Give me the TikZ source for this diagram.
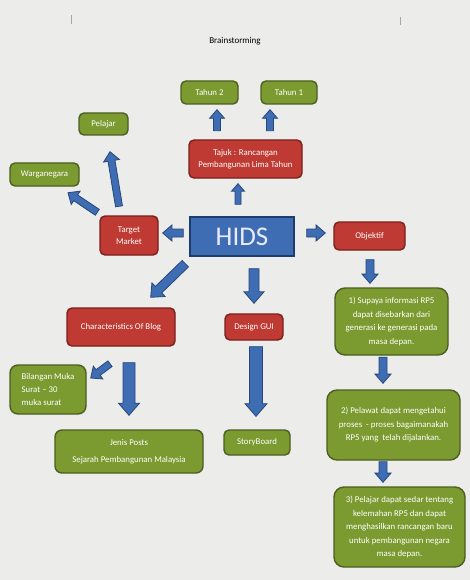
\documentclass[tikz,border=0pt]{standalone}
\usepackage{fontspec}
\setmainfont{Carlito}
\usetikzlibrary{calc}
\definecolor{bg}{HTML}{ECECEA}
\definecolor{redf}{HTML}{BF3A33}
\definecolor{redd}{HTML}{7A1F1C}
\definecolor{grnf}{HTML}{7B9A2F}
\definecolor{grnd}{HTML}{4C5E21}
\definecolor{bluf}{HTML}{3F6DB3}
\definecolor{blud}{HTML}{27477C}
\definecolor{hidsd}{HTML}{1F3C6E}
\tikzset{
  box/.style={draw, line width=1.4pt, rounded corners=5pt, text=white, align=center, inner sep=2pt, font=\fontsize{8.8}{13.5}\selectfont},
  redbox/.style={box, fill=redf, draw=redd},
  grnbox/.style={box, fill=grnf, draw=grnd},
  arrowst/.style={fill=bluf, draw=blud, line width=0.8pt, line join=miter},
}
\newcommand\barrow[4]{%
  \filldraw[arrowst] let \p1=($(#2)-(#1)$), \n1={atan2(\y1,\x1)}, \n2={veclen(\x1,\y1)} in
    [shift={(#1)}, rotate=\n1]
    (0,-#3) -- ({\n2-1.15*#4},-#3) -- ({\n2-1.15*#4},-#4) -- (\n2,0) --
    ({\n2-1.15*#4},#4) -- ({\n2-1.15*#4},#3) -- (0,#3) -- cycle;
}
\begin{document}
\begin{tikzpicture}[x=1pt,y=-1pt]
\fill[bg] (0,0) rectangle (470,580);
\useasboundingbox (0,0) rectangle (470,580);
\draw[gray!70, line width=0.6pt] (71,15) -- (71,24);
\draw[gray!70, line width=0.6pt] (400,17) -- (400,25);

\node[font=\fontsize{9}{10}\selectfont] (title) at (235,41) {Brainstorming};

\node[grnbox, minimum width=57, minimum height=23] (tahun2) at (209.5,92.5) {Tahun 2};
\node[grnbox, minimum width=56, minimum height=23] (tahun1) at (289,92.5) {Tahun 1};
\node[redbox, minimum width=113, minimum height=38, font=\fontsize{8.8}{12}\selectfont] (tajuk) at (245.5,159) {Tajuk : Rancangan\\Pembangunan Lima Tahun};
\node[grnbox, minimum width=49, minimum height=22] (pelajar) at (103.5,124) {Pelajar};
\node[grnbox, minimum width=69, minimum height=23] (warga) at (44.5,174.5) {Warganegara};
\node[redbox, minimum width=58, minimum height=39, font=\fontsize{8.8}{12}\selectfont] (target) at (129,235.5) {Target\\Market};
\node[box, fill=bluf, draw=hidsd, rounded corners=0pt, minimum width=104, minimum height=39, text=blue!8!white, font=\fontsize{27}{28}\selectfont] (hids) at (242,236.5) {HIDS};
\node[redbox, minimum width=71, minimum height=28] (objektif) at (369.5,236) {Objektif};
\node[redbox, minimum width=108, minimum height=38] (charac) at (121,327) {Characteristics Of Blog};
\node[redbox, minimum width=58, minimum height=26] (design) at (254,327) {Design GUI};
\node[grnbox, minimum width=113, minimum height=67, rounded corners=10pt] (obj1) at (391.5,321.5) {1) Supaya informasi RP5\\dapat disebarkan dari\\generasi ke generasi pada\\masa depan.};
\node[grnbox, minimum width=133, minimum height=70, rounded corners=10pt] (obj2) at (393.5,425) {2) Pelawat dapat mengetahui\\proses \ - proses bagaimanakah\\RP5 yang \ telah dijalankan.};
\node[grnbox, minimum width=131, minimum height=80, rounded corners=10pt] (obj3) at (399.5,527) {3) Pelajar dapat sedar tentang\\kelemahan RP5 dan dapat\\menghasilkan rancangan baru\\untuk pembangunan negara\\masa depan.};
\node[grnbox, minimum width=76, minimum height=49, align=left, rounded corners=8pt, font=\fontsize{8.8}{13}\selectfont] (bilangan) at (48,389.5) {Bilangan Muka\\Surat -- 30\\muka surat};
\node[grnbox, minimum width=148, minimum height=43, rounded corners=7pt, font=\fontsize{8.8}{15}\selectfont] (jenis) at (129,451.5) {Jenis Posts\\[2pt]Sejarah Pembangunan Malaysia};
\node[grnbox, minimum width=66, minimum height=25] (story) at (257,442.5) {StoryBoard};

% arrow end coordinates
\coordinate (a1s) at ($(tahun2.south)+(7.5,26)$);   \coordinate (a1e) at ($(tahun2.south)+(7.5,5)$);
\coordinate (a2s) at ($(tahun1.south)+(-19,26)$);   \coordinate (a2e) at ($(tahun1.south)+(-19,5)$);
\coordinate (a3s) at ($(hids.north)+(-4,-12)$);     \coordinate (a3e) at ($(tajuk.south)+(-7.5,5)$);
\coordinate (a4s) at ($(hids.west)+(-6,-3.5)$);     \coordinate (a4e) at ($(target.east)+(4,-2.5)$);
\coordinate (a5s) at ($(hids.east)+(12,-3.5)$);     \coordinate (a5e) at ($(objektif.west)+(-8,-3)$);
\coordinate (a6s) at ($(target.north)+(-10,-9)$);   \coordinate (a6e) at ($(pelajar.south)+(6.5,16)$);
\coordinate (a7s) at ($(target.north west)+(-2,-3)$); \coordinate (a7e) at ($(warga.south)+(23.5,6)$);
\coordinate (a8s) at ($(hids.south west)+(-4,7)$);  \coordinate (a8e) at ($(charac.north east)+(-25,-10)$);
\coordinate (a9s) at ($(hids.south)+(12,12)$);      \coordinate (a9e) at ($(design.north)+(0,-10)$);
\coordinate (b1s) at ($(objektif.south)+(0.5,9)$);  \coordinate (b1e) at ($(obj1.north)+(-21.5,-4)$);
\coordinate (b2s) at ($(obj1.south)+(-8.5,1.5)$);   \coordinate (b2e) at ($(obj2.north)+(-10.5,-6)$);
\coordinate (b3s) at ($(obj2.south)+(-10.5,1)$);    \coordinate (b3e) at ($(obj3.north)+(-16.5,-4)$);
\coordinate (c1s) at ($(charac.south)+(-11,17)$);   \coordinate (c1e) at ($(bilangan.east)+(4,-11.5)$);
\coordinate (c2s) at ($(charac.south)+(8,16)$);     \coordinate (c2e) at ($(jenis.north)+(0,-14)$);
\coordinate (d1s) at ($(design.south)+(2,6)$);      \coordinate (d1e) at ($(story.north)+(-1,-13)$);

\barrow{a1s}{a1e}{3.5}{7.5}
\barrow{a2s}{a2e}{3.5}{7.5}
\barrow{a3s}{a3e}{3}{6.5}
\barrow{a4s}{a4e}{4}{8}
\barrow{a5s}{a5e}{4}{8}
\barrow{a6s}{a6e}{3.5}{8}
\barrow{a7s}{a7e}{3.5}{8}
\barrow{a8s}{a8e}{4.5}{9.5}
\barrow{a9s}{a9e}{5}{10}
\barrow{b1s}{b1e}{4}{8}
\barrow{b2s}{b2e}{4}{8}
\barrow{b3s}{b3e}{4}{8}
\barrow{c1s}{c1e}{3.5}{8}
\barrow{c2s}{c2e}{6}{10.5}
\barrow{d1s}{d1e}{6.5}{11}
\end{tikzpicture}
\end{document}
